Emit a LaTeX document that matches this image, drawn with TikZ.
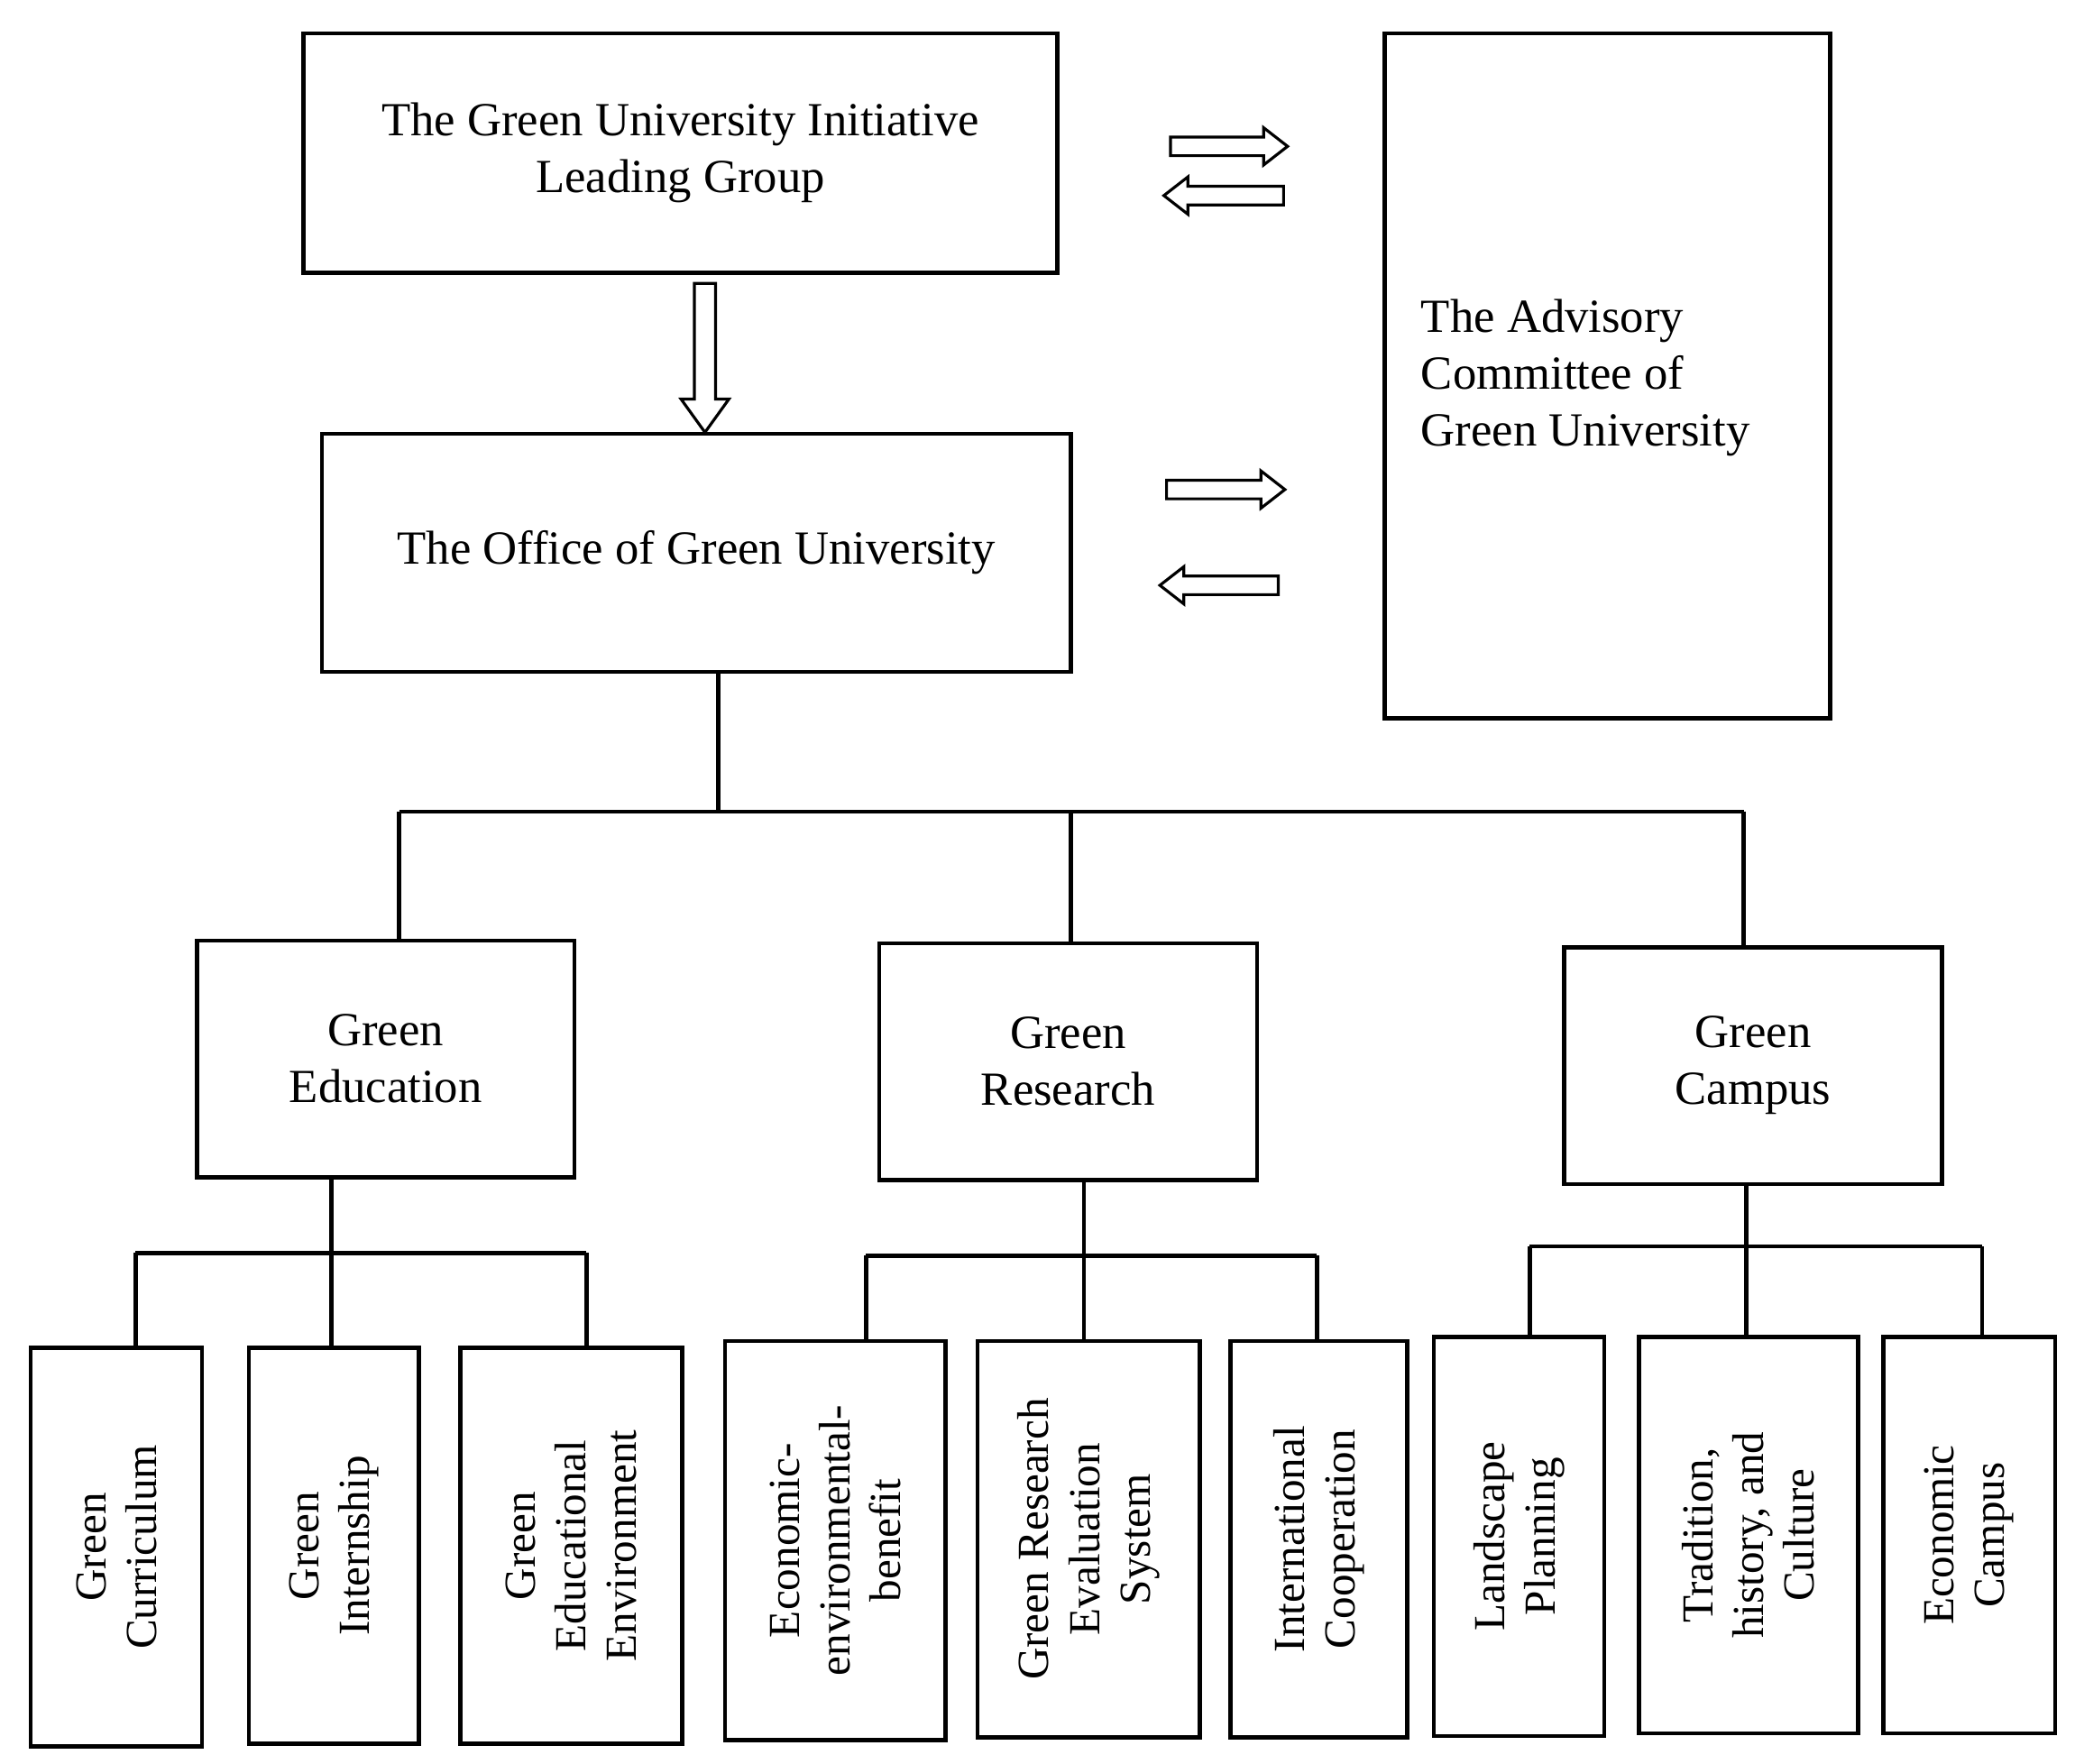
\documentclass[tikz,border=0pt]{standalone}
\usepackage{fontspec}
\setmainfont{Liberation Serif}
\begin{document}
\begin{tikzpicture}[x=0.01475cm,y=-0.01475cm,
 box/.style={draw,line width=1.3pt,align=center,font=\fontsize{15}{18}\selectfont},
 leaf/.style={draw,line width=1.3pt},
 lt/.style={rotate=90,align=center,font=\fontsize{14}{16}\selectfont},
 ln/.style={line width=1.3pt},
 ha/.style={line width=0.9pt,fill=white}]
\useasboundingbox (0,0) rectangle (1560,1326);
\node[box,minimum width=567*0.01475cm,minimum height=180*0.01475cm] (top) at (511.5,115) {The Green University Initiative\\Leading Group};
\node[box,minimum width=335*0.01475cm,minimum height=515*0.01475cm] (adv) at (1208.5,282.5) {};
\node[align=left,anchor=west,font=\fontsize{15}{18}\selectfont] (advt) at (1060,284) {The Advisory\\Committee of\\Green University};
\node[box,minimum width=563*0.01475cm,minimum height=179*0.01475cm] (off) at (523.5,415.5) {The Office of Green University};
\node[box,minimum width=284*0.01475cm,minimum height=178*0.01475cm] (ge) at (290,796) {Green\\Education};
\node[box,minimum width=284*0.01475cm,minimum height=178*0.01475cm] (gr) at (803,798) {Green\\Research};
\node[box,minimum width=284*0.01475cm,minimum height=178*0.01475cm] (gc) at (1318,801) {Green\\Campus};
% leaves
\foreach \n/\a/\b/\c/\d/\t in {l1/23/1013/152/1313/{Green\\Curriculum},l2/187/1013/315/1311/{Green\\Internship},l3/346/1013/513/1311/{Green\\Educational\\Environment},l4/545/1008/711/1308/{Economic-\\environmental-\\benefit},l5/735/1008/902/1306/{Green Research\\Evaluation\\System},l6/925/1008/1058/1306/{International\\Cooperation},l7/1078/1005/1206/1305/{Landscape\\Planning},l8/1232/1005/1397/1303/{Tradition,\\history, and\\Culture},l9/1416/1005/1545/1303/{Economic\\Campus}}{
 \draw[leaf] (\a,\b) rectangle (\c,\d);
 \node[lt] (\n) at ({(\a+\c)/2},{(\b+\d)/2}) {\t};
}
% connectors
\coordinate (j0) at (540,610);
\draw[ln] (off.south -| j0) -- (j0);
\draw[ln] (300,610) -- (1311,610);
\draw[ln] (300,610) -- (300,707);
\draw[ln] (805,610) -- (805,709);
\draw[ln] (1311,610) -- (1311,712);
\draw[ln] (249,885) -- (249,1013);
\draw[ln] (102,942) -- (441,942);
\draw[ln] (102,942) -- (102,1013);
\draw[ln] (441,942) -- (441,1013);
\draw[ln] (815,887) -- (815,1008);
\draw[ln] (651,944) -- (990,944);
\draw[ln] (651,944) -- (651,1008);
\draw[ln] (990,944) -- (990,1008);
\draw[ln] (1313,890) -- (1313,1005);
\draw[ln] (1150,937) -- (1490,937);
\draw[ln] (1150,937) -- (1150,1005);
\draw[ln] (1490,937) -- (1490,1005);
% hollow arrows
\draw[ha] (522,213)--(538,213)--(538,300)--(548,300)--(530,325)--(512,300)--(522,300)--cycle;
\draw[ha] (880,103)--(950,103)--(950,96)--(968,110)--(950,124)--(950,117)--(880,117)--cycle;
\draw[ha] (965,140)--(893,140)--(893,133)--(875,147)--(893,161)--(893,154)--(965,154)--cycle;
\draw[ha] (877,361)--(948,361)--(948,354)--(966,368)--(948,382)--(948,375)--(877,375)--cycle;
\draw[ha] (961,433)--(890,433)--(890,426)--(872,440)--(890,454)--(890,447)--(961,447)--cycle;
\end{tikzpicture}
\end{document}
